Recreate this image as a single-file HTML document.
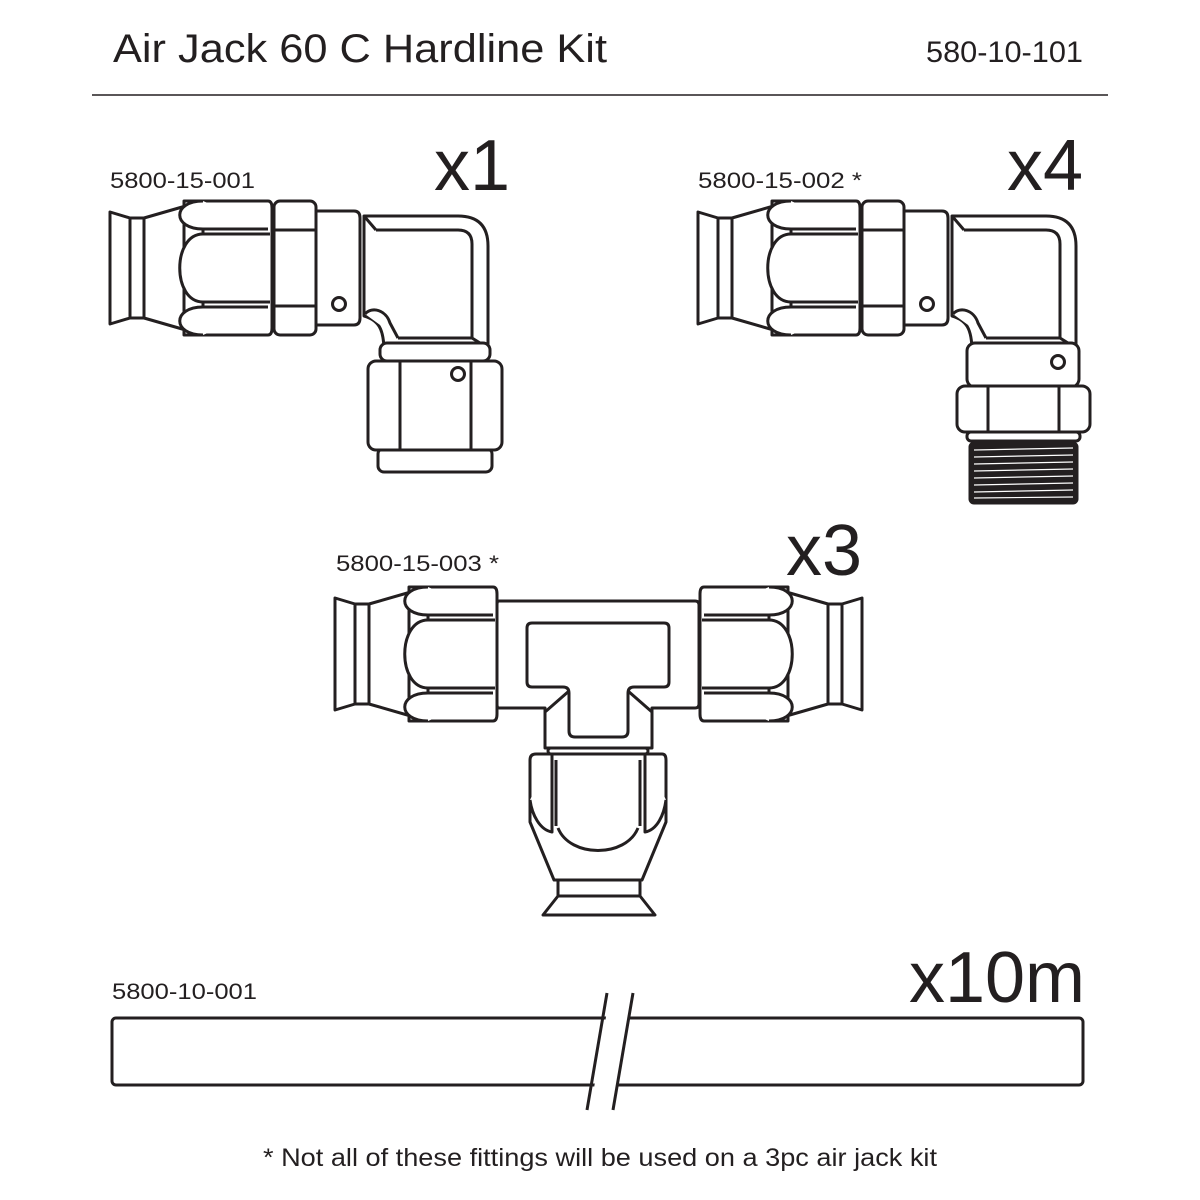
<!DOCTYPE html>
<html><head><meta charset="utf-8"><style>
html,body{margin:0;padding:0;background:#fff;}
svg{display:block;}
text{font-family:"Liberation Sans",sans-serif;fill:#231f20;}
</style></head><body>
<svg width="1200" height="1200" viewBox="0 0 1200 1200" xmlns="http://www.w3.org/2000/svg">
<defs>
<g id="fer" fill="#fff" stroke="#231f20" stroke-width="3" stroke-linejoin="round">
  <path d="M0,-56 L20,-50 L20,50 L0,56 Z"/>
  <rect x="20" y="-50" width="14" height="100"/>
  <path d="M34,-50 L93,-67 L93,67 L34,50 Z"/>
  <path d="M74,-67 L158,-67 Q162,-67 162,-60 L162,60 Q162,67 158,67 L74,67 Z"/>
  <path d="M93,-67 C62,-67 62,-39 93,-39 L158,-39"/>
  <path d="M93,67 C62,67 62,39 93,39 L158,39"/>
  <path d="M93,-34 C62,-34 62,34 93,34"/>
  <line x1="93" y1="-34" x2="160" y2="-34"/>
  <line x1="93" y1="34" x2="160" y2="34"/>
  <line x1="93" y1="-39" x2="93" y2="-34"/>
  <line x1="93" y1="39" x2="93" y2="34"/>
</g>
<g id="elbowTop" fill="#fff" stroke="#231f20" stroke-width="3" stroke-linejoin="round">
  <use href="#fer"/>
  <rect x="164" y="-67" width="42" height="134" rx="6"/>
  <line x1="164" y1="-38" x2="206" y2="-38"/>
  <line x1="164" y1="38" x2="206" y2="38"/>
  <path d="M206,-57 L244,-57 Q250,-57 250,-50 L250,50 Q250,57 244,57 L206,57 Z"/>
  <circle cx="229" cy="36" r="6.5"/>
  <path d="M254,-52 L348,-52 Q378,-52 378,-22 L378,84 L274,84 C274,60 268,52 254,48 Z"/>
  <path d="M266,-38 L348,-38 Q362,-38 362,-24 L362,70 L288,70"/>
  <line x1="254" y1="-52" x2="266" y2="-38"/>
  <line x1="378" y1="80" x2="362" y2="70"/>
  <path d="M255,46 C262,38 276,42 280,55 L288,70"/>
</g>
</defs>

<text x="113" y="62" font-size="40" textLength="494" lengthAdjust="spacingAndGlyphs">Air Jack 60 C Hardline Kit</text>
<text x="926" y="62" font-size="30" textLength="157" lengthAdjust="spacingAndGlyphs">580-10-101</text>
<line x1="92" y1="95" x2="1108" y2="95" stroke="#231f20" stroke-width="1.5"/>

<text x="110" y="188" font-size="22" textLength="145" lengthAdjust="spacingAndGlyphs">5800-15-001</text>
<text x="510" y="190" font-size="72" text-anchor="end">x1</text>
<text x="698" y="188" font-size="22" textLength="164" lengthAdjust="spacingAndGlyphs">5800-15-002 *</text>
<text x="1083" y="190" font-size="72" text-anchor="end">x4</text>
<text x="336" y="571" font-size="22" textLength="163" lengthAdjust="spacingAndGlyphs">5800-15-003 *</text>
<text x="862" y="575" font-size="72" text-anchor="end">x3</text>
<text x="112" y="999" font-size="22" textLength="145" lengthAdjust="spacingAndGlyphs">5800-10-001</text>
<text x="1085" y="1002" font-size="72" text-anchor="end">x10m</text>
<text x="263" y="1166" font-size="25" textLength="674" lengthAdjust="spacingAndGlyphs">* Not all of these fittings will be used on a 3pc air jack kit</text>

<g fill="#fff" stroke="#231f20" stroke-width="3" stroke-linejoin="round">
<g transform="translate(110,268)"><use href="#elbowTop"/></g>
<rect x="380" y="343" width="110" height="18" rx="7"/>
<rect x="378" y="448" width="114" height="24" rx="6"/>
<rect x="368" y="361" width="134" height="89" rx="8"/>
<line x1="400" y1="362" x2="400" y2="449"/>
<line x1="471" y1="362" x2="471" y2="449"/>
<circle cx="458" cy="374" r="6.5"/>

<g transform="translate(698,268)"><use href="#elbowTop"/></g>
<rect x="967" y="343" width="112" height="44" rx="8"/>
<circle cx="1058" cy="362" r="6.5"/>
<rect x="957" y="386" width="133" height="46" rx="8"/>
<line x1="988" y1="387" x2="988" y2="431"/>
<line x1="1059" y1="387" x2="1059" y2="431"/>
<rect x="967" y="432" width="113" height="9" rx="4"/>
<rect x="970" y="443" width="107" height="60" rx="4" fill="#231f20"/>
<g stroke="#fff" stroke-width="1.2">
<line x1="974" y1="450" x2="1073" y2="448"/>
<line x1="974" y1="457" x2="1073" y2="455"/>
<line x1="974" y1="464" x2="1073" y2="462"/>
<line x1="974" y1="471" x2="1073" y2="469"/>
<line x1="974" y1="478" x2="1073" y2="476"/>
<line x1="974" y1="485" x2="1073" y2="483"/>
<line x1="974" y1="492" x2="1073" y2="490"/>
<line x1="974" y1="498" x2="1073" y2="497"/>
</g>

<path d="M499,601 L695,601 Q699,601 699,605 L699,704 Q699,708 695,708 L652,708 L652,748 L545,748 L545,708 L499,708 Q497,708 497,704 L497,605 Q497,601 499,601 Z"/>
<path d="M532,623 L664,623 Q669,623 669,628 L669,682 Q669,687 664,687 L634,687 Q628,687 628,693 L628,731 Q628,737 622,737 L575,737 Q569,737 569,731 L569,693 Q569,687 563,687 L532,687 Q527,687 527,682 L527,628 Q527,623 532,623 Z"/>
<line x1="569" y1="691" x2="545" y2="712"/>
<line x1="628" y1="691" x2="652" y2="712"/>
<g transform="translate(335,654)"><use href="#fer"/></g>
<g transform="translate(862,654) scale(-1,1)"><use href="#fer"/></g>
<rect x="548" y="748" width="100" height="6" rx="3"/>
<path d="M536,754 L662,754 Q666,754 666,760 L666,822 L642,880 L554,880 L530,822 L530,760 Q530,754 536,754 Z"/>
<path d="M552,754 L552,832 C540,830 532,815 530,800"/>
<path d="M645,754 L645,832 C657,830 664,815 666,800"/>
<line x1="556" y1="760" x2="556" y2="826"/>
<line x1="640" y1="760" x2="640" y2="826"/>
<path d="M558,828 C570,858 626,858 638,828"/>
<rect x="558" y="880" width="82" height="16"/>
<path d="M558,896 L640,896 L655,915 L543,915 Z"/>

<rect x="112" y="1018" width="971" height="67" rx="4"/>
</g>
<polygon points="608,1005 632,1005 616,1100 592,1100" fill="#fff"/>
<line x1="607" y1="993" x2="587" y2="1110" stroke="#231f20" stroke-width="3"/>
<line x1="633" y1="993" x2="613" y2="1110" stroke="#231f20" stroke-width="3"/>
</svg>
</body></html>
